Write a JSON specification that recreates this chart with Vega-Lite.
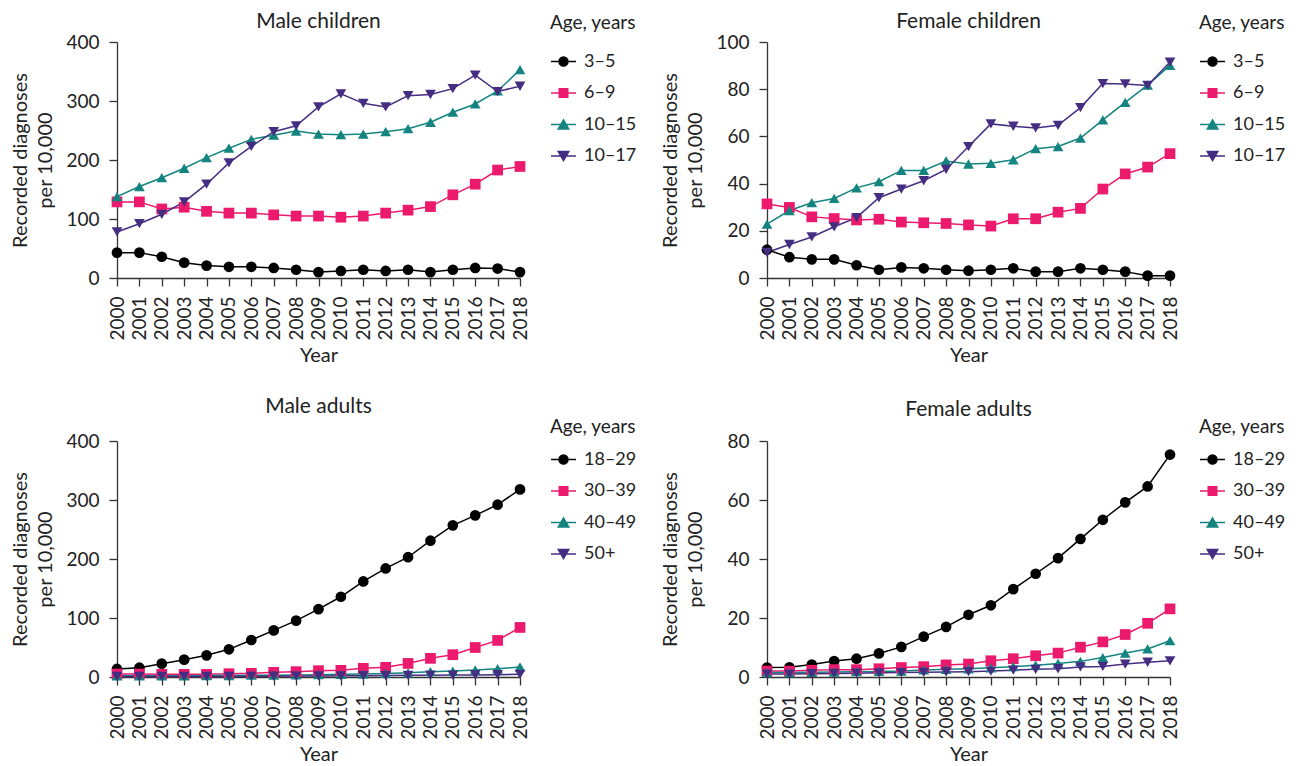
{
  "$schema": "https://vega.github.io/schema/vega-lite/v6.json",
  "padding": {"left": 10, "top": 11, "right": 5, "bottom": 2},
  "columns": 2,
  "bounds": "flush",
  "spacing": {"row": 163, "column": 247},
  "data": {"values": [
    {"panel":"MC","group":"3–5","year":2000,"value":43},{"panel":"MC","group":"3–5","year":2001,"value":43},{"panel":"MC","group":"3–5","year":2002,"value":36},{"panel":"MC","group":"3–5","year":2003,"value":26},{"panel":"MC","group":"3–5","year":2004,"value":21},{"panel":"MC","group":"3–5","year":2005,"value":19},{"panel":"MC","group":"3–5","year":2006,"value":19},{"panel":"MC","group":"3–5","year":2007,"value":17},{"panel":"MC","group":"3–5","year":2008,"value":14},{"panel":"MC","group":"3–5","year":2009,"value":10},{"panel":"MC","group":"3–5","year":2010,"value":12},{"panel":"MC","group":"3–5","year":2011,"value":14},{"panel":"MC","group":"3–5","year":2012,"value":12},{"panel":"MC","group":"3–5","year":2013,"value":14},{"panel":"MC","group":"3–5","year":2014,"value":10},{"panel":"MC","group":"3–5","year":2015,"value":14},{"panel":"MC","group":"3–5","year":2016,"value":17},{"panel":"MC","group":"3–5","year":2017,"value":16},{"panel":"MC","group":"3–5","year":2018,"value":10},
    {"panel":"MC","group":"6–9","year":2000,"value":129},{"panel":"MC","group":"6–9","year":2001,"value":129},{"panel":"MC","group":"6–9","year":2002,"value":117},{"panel":"MC","group":"6–9","year":2003,"value":120},{"panel":"MC","group":"6–9","year":2004,"value":113},{"panel":"MC","group":"6–9","year":2005,"value":110},{"panel":"MC","group":"6–9","year":2006,"value":110},{"panel":"MC","group":"6–9","year":2007,"value":107},{"panel":"MC","group":"6–9","year":2008,"value":105},{"panel":"MC","group":"6–9","year":2009,"value":105},{"panel":"MC","group":"6–9","year":2010,"value":103},{"panel":"MC","group":"6–9","year":2011,"value":105},{"panel":"MC","group":"6–9","year":2012,"value":110},{"panel":"MC","group":"6–9","year":2013,"value":115},{"panel":"MC","group":"6–9","year":2014,"value":121},{"panel":"MC","group":"6–9","year":2015,"value":141},{"panel":"MC","group":"6–9","year":2016,"value":159},{"panel":"MC","group":"6–9","year":2017,"value":183},{"panel":"MC","group":"6–9","year":2018,"value":189},
    {"panel":"MC","group":"10–15","year":2000,"value":138},{"panel":"MC","group":"10–15","year":2001,"value":155},{"panel":"MC","group":"10–15","year":2002,"value":170},{"panel":"MC","group":"10–15","year":2003,"value":186},{"panel":"MC","group":"10–15","year":2004,"value":204},{"panel":"MC","group":"10–15","year":2005,"value":220},{"panel":"MC","group":"10–15","year":2006,"value":235},{"panel":"MC","group":"10–15","year":2007,"value":242},{"panel":"MC","group":"10–15","year":2008,"value":249},{"panel":"MC","group":"10–15","year":2009,"value":244},{"panel":"MC","group":"10–15","year":2010,"value":243},{"panel":"MC","group":"10–15","year":2011,"value":244},{"panel":"MC","group":"10–15","year":2012,"value":248},{"panel":"MC","group":"10–15","year":2013,"value":253},{"panel":"MC","group":"10–15","year":2014,"value":264},{"panel":"MC","group":"10–15","year":2015,"value":281},{"panel":"MC","group":"10–15","year":2016,"value":295},{"panel":"MC","group":"10–15","year":2017,"value":317},{"panel":"MC","group":"10–15","year":2018,"value":353},
    {"panel":"MC","group":"10–17","year":2000,"value":78},{"panel":"MC","group":"10–17","year":2001,"value":92},{"panel":"MC","group":"10–17","year":2002,"value":108},{"panel":"MC","group":"10–17","year":2003,"value":129},{"panel":"MC","group":"10–17","year":2004,"value":159},{"panel":"MC","group":"10–17","year":2005,"value":195},{"panel":"MC","group":"10–17","year":2006,"value":223},{"panel":"MC","group":"10–17","year":2007,"value":248},{"panel":"MC","group":"10–17","year":2008,"value":258},{"panel":"MC","group":"10–17","year":2009,"value":290},{"panel":"MC","group":"10–17","year":2010,"value":312},{"panel":"MC","group":"10–17","year":2011,"value":296},{"panel":"MC","group":"10–17","year":2012,"value":290},{"panel":"MC","group":"10–17","year":2013,"value":309},{"panel":"MC","group":"10–17","year":2014,"value":311},{"panel":"MC","group":"10–17","year":2015,"value":321},{"panel":"MC","group":"10–17","year":2016,"value":344},{"panel":"MC","group":"10–17","year":2017,"value":316},{"panel":"MC","group":"10–17","year":2018,"value":325},
    {"panel":"FC","group":"3–5","year":2000,"value":12.0},{"panel":"FC","group":"3–5","year":2001,"value":8.8},{"panel":"FC","group":"3–5","year":2002,"value":7.9},{"panel":"FC","group":"3–5","year":2003,"value":7.9},{"panel":"FC","group":"3–5","year":2004,"value":5.4},{"panel":"FC","group":"3–5","year":2005,"value":3.5},{"panel":"FC","group":"3–5","year":2006,"value":4.5},{"panel":"FC","group":"3–5","year":2007,"value":4.1},{"panel":"FC","group":"3–5","year":2008,"value":3.5},{"panel":"FC","group":"3–5","year":2009,"value":3.1},{"panel":"FC","group":"3–5","year":2010,"value":3.5},{"panel":"FC","group":"3–5","year":2011,"value":4.1},{"panel":"FC","group":"3–5","year":2012,"value":2.7},{"panel":"FC","group":"3–5","year":2013,"value":2.7},{"panel":"FC","group":"3–5","year":2014,"value":4.1},{"panel":"FC","group":"3–5","year":2015,"value":3.5},{"panel":"FC","group":"3–5","year":2016,"value":2.7},{"panel":"FC","group":"3–5","year":2017,"value":1.0},{"panel":"FC","group":"3–5","year":2018,"value":1.0},
    {"panel":"FC","group":"6–9","year":2000,"value":31.4},{"panel":"FC","group":"6–9","year":2001,"value":29.9},{"panel":"FC","group":"6–9","year":2002,"value":25.9},{"panel":"FC","group":"6–9","year":2003,"value":25.2},{"panel":"FC","group":"6–9","year":2004,"value":24.6},{"panel":"FC","group":"6–9","year":2005,"value":24.9},{"panel":"FC","group":"6–9","year":2006,"value":23.7},{"panel":"FC","group":"6–9","year":2007,"value":23.4},{"panel":"FC","group":"6–9","year":2008,"value":23.1},{"panel":"FC","group":"6–9","year":2009,"value":22.5},{"panel":"FC","group":"6–9","year":2010,"value":22.0},{"panel":"FC","group":"6–9","year":2011,"value":25.1},{"panel":"FC","group":"6–9","year":2012,"value":25.1},{"panel":"FC","group":"6–9","year":2013,"value":27.9},{"panel":"FC","group":"6–9","year":2014,"value":29.5},{"panel":"FC","group":"6–9","year":2015,"value":37.7},{"panel":"FC","group":"6–9","year":2016,"value":44.1},{"panel":"FC","group":"6–9","year":2017,"value":47.0},{"panel":"FC","group":"6–9","year":2018,"value":52.7},
    {"panel":"FC","group":"10–15","year":2000,"value":22.8},{"panel":"FC","group":"10–15","year":2001,"value":28.6},{"panel":"FC","group":"10–15","year":2002,"value":31.9},{"panel":"FC","group":"10–15","year":2003,"value":33.7},{"panel":"FC","group":"10–15","year":2004,"value":38.2},{"panel":"FC","group":"10–15","year":2005,"value":40.8},{"panel":"FC","group":"10–15","year":2006,"value":45.6},{"panel":"FC","group":"10–15","year":2007,"value":45.6},{"panel":"FC","group":"10–15","year":2008,"value":49.6},{"panel":"FC","group":"10–15","year":2009,"value":48.3},{"panel":"FC","group":"10–15","year":2010,"value":48.6},{"panel":"FC","group":"10–15","year":2011,"value":50.1},{"panel":"FC","group":"10–15","year":2012,"value":54.8},{"panel":"FC","group":"10–15","year":2013,"value":55.7},{"panel":"FC","group":"10–15","year":2014,"value":59.3},{"panel":"FC","group":"10–15","year":2015,"value":67.0},{"panel":"FC","group":"10–15","year":2016,"value":74.4},{"panel":"FC","group":"10–15","year":2017,"value":81.7},{"panel":"FC","group":"10–15","year":2018,"value":90.1},
    {"panel":"FC","group":"10–17","year":2000,"value":10.8},{"panel":"FC","group":"10–17","year":2001,"value":14.2},{"panel":"FC","group":"10–17","year":2002,"value":17.4},{"panel":"FC","group":"10–17","year":2003,"value":21.7},{"panel":"FC","group":"10–17","year":2004,"value":25.6},{"panel":"FC","group":"10–17","year":2005,"value":34.0},{"panel":"FC","group":"10–17","year":2006,"value":37.7},{"panel":"FC","group":"10–17","year":2007,"value":41.2},{"panel":"FC","group":"10–17","year":2008,"value":46.0},{"panel":"FC","group":"10–17","year":2009,"value":55.7},{"panel":"FC","group":"10–17","year":2010,"value":65.3},{"panel":"FC","group":"10–17","year":2011,"value":64.3},{"panel":"FC","group":"10–17","year":2012,"value":63.6},{"panel":"FC","group":"10–17","year":2013,"value":64.7},{"panel":"FC","group":"10–17","year":2014,"value":72.2},{"panel":"FC","group":"10–17","year":2015,"value":82.4},{"panel":"FC","group":"10–17","year":2016,"value":82.2},{"panel":"FC","group":"10–17","year":2017,"value":81.6},{"panel":"FC","group":"10–17","year":2018,"value":91.5},
    {"panel":"MA","group":"18–29","year":2000,"value":13.6},{"panel":"MA","group":"18–29","year":2001,"value":15.8},{"panel":"MA","group":"18–29","year":2002,"value":22.6},{"panel":"MA","group":"18–29","year":2003,"value":29.4},{"panel":"MA","group":"18–29","year":2004,"value":36.7},{"panel":"MA","group":"18–29","year":2005,"value":46.9},{"panel":"MA","group":"18–29","year":2006,"value":62.7},{"panel":"MA","group":"18–29","year":2007,"value":79},{"panel":"MA","group":"18–29","year":2008,"value":95.5},{"panel":"MA","group":"18–29","year":2009,"value":115},{"panel":"MA","group":"18–29","year":2010,"value":136},{"panel":"MA","group":"18–29","year":2011,"value":162},{"panel":"MA","group":"18–29","year":2012,"value":184},{"panel":"MA","group":"18–29","year":2013,"value":203},{"panel":"MA","group":"18–29","year":2014,"value":231},{"panel":"MA","group":"18–29","year":2015,"value":257},{"panel":"MA","group":"18–29","year":2016,"value":274},{"panel":"MA","group":"18–29","year":2017,"value":292},{"panel":"MA","group":"18–29","year":2018,"value":318},
    {"panel":"MA","group":"30–39","year":2000,"value":5},{"panel":"MA","group":"30–39","year":2001,"value":5},{"panel":"MA","group":"30–39","year":2002,"value":4.5},{"panel":"MA","group":"30–39","year":2003,"value":4.5},{"panel":"MA","group":"30–39","year":2004,"value":4.5},{"panel":"MA","group":"30–39","year":2005,"value":5.6},{"panel":"MA","group":"30–39","year":2006,"value":6.2},{"panel":"MA","group":"30–39","year":2007,"value":7.9},{"panel":"MA","group":"30–39","year":2008,"value":9},{"panel":"MA","group":"30–39","year":2009,"value":10.7},{"panel":"MA","group":"30–39","year":2010,"value":11.3},{"panel":"MA","group":"30–39","year":2011,"value":14.7},{"panel":"MA","group":"30–39","year":2012,"value":16.4},{"panel":"MA","group":"30–39","year":2013,"value":23},{"panel":"MA","group":"30–39","year":2014,"value":31.6},{"panel":"MA","group":"30–39","year":2015,"value":37.8},{"panel":"MA","group":"30–39","year":2016,"value":50},{"panel":"MA","group":"30–39","year":2017,"value":62},{"panel":"MA","group":"30–39","year":2018,"value":84},
    {"panel":"MA","group":"40–49","year":2000,"value":2},{"panel":"MA","group":"40–49","year":2001,"value":2},{"panel":"MA","group":"40–49","year":2002,"value":2},{"panel":"MA","group":"40–49","year":2003,"value":2},{"panel":"MA","group":"40–49","year":2004,"value":2.5},{"panel":"MA","group":"40–49","year":2005,"value":2.5},{"panel":"MA","group":"40–49","year":2006,"value":3},{"panel":"MA","group":"40–49","year":2007,"value":3},{"panel":"MA","group":"40–49","year":2008,"value":3.5},{"panel":"MA","group":"40–49","year":2009,"value":4},{"panel":"MA","group":"40–49","year":2010,"value":4.5},{"panel":"MA","group":"40–49","year":2011,"value":5},{"panel":"MA","group":"40–49","year":2012,"value":6},{"panel":"MA","group":"40–49","year":2013,"value":7},{"panel":"MA","group":"40–49","year":2014,"value":9},{"panel":"MA","group":"40–49","year":2015,"value":10},{"panel":"MA","group":"40–49","year":2016,"value":12},{"panel":"MA","group":"40–49","year":2017,"value":14},{"panel":"MA","group":"40–49","year":2018,"value":17},
    {"panel":"MA","group":"50+","year":2000,"value":1},{"panel":"MA","group":"50+","year":2001,"value":1},{"panel":"MA","group":"50+","year":2002,"value":1},{"panel":"MA","group":"50+","year":2003,"value":1},{"panel":"MA","group":"50+","year":2004,"value":1},{"panel":"MA","group":"50+","year":2005,"value":1},{"panel":"MA","group":"50+","year":2006,"value":1.2},{"panel":"MA","group":"50+","year":2007,"value":1.4},{"panel":"MA","group":"50+","year":2008,"value":1.6},{"panel":"MA","group":"50+","year":2009,"value":1.8},{"panel":"MA","group":"50+","year":2010,"value":2},{"panel":"MA","group":"50+","year":2011,"value":2.2},{"panel":"MA","group":"50+","year":2012,"value":2.5},{"panel":"MA","group":"50+","year":2013,"value":2.8},{"panel":"MA","group":"50+","year":2014,"value":3},{"panel":"MA","group":"50+","year":2015,"value":3.3},{"panel":"MA","group":"50+","year":2016,"value":3.6},{"panel":"MA","group":"50+","year":2017,"value":4},{"panel":"MA","group":"50+","year":2018,"value":4.5},
    {"panel":"FA","group":"18–29","year":2000,"value":3.2},{"panel":"FA","group":"18–29","year":2001,"value":3.3},{"panel":"FA","group":"18–29","year":2002,"value":4.2},{"panel":"FA","group":"18–29","year":2003,"value":5.4},{"panel":"FA","group":"18–29","year":2004,"value":6.2},{"panel":"FA","group":"18–29","year":2005,"value":8.0},{"panel":"FA","group":"18–29","year":2006,"value":10.2},{"panel":"FA","group":"18–29","year":2007,"value":13.7},{"panel":"FA","group":"18–29","year":2008,"value":17.0},{"panel":"FA","group":"18–29","year":2009,"value":21.1},{"panel":"FA","group":"18–29","year":2010,"value":24.3},{"panel":"FA","group":"18–29","year":2011,"value":29.8},{"panel":"FA","group":"18–29","year":2012,"value":35.0},{"panel":"FA","group":"18–29","year":2013,"value":40.3},{"panel":"FA","group":"18–29","year":2014,"value":46.8},{"panel":"FA","group":"18–29","year":2015,"value":53.3},{"panel":"FA","group":"18–29","year":2016,"value":59.2},{"panel":"FA","group":"18–29","year":2017,"value":64.6},{"panel":"FA","group":"18–29","year":2018,"value":75.4},
    {"panel":"FA","group":"30–39","year":2000,"value":2.0},{"panel":"FA","group":"30–39","year":2001,"value":2.0},{"panel":"FA","group":"30–39","year":2002,"value":2.3},{"panel":"FA","group":"30–39","year":2003,"value":2.5},{"panel":"FA","group":"30–39","year":2004,"value":2.5},{"panel":"FA","group":"30–39","year":2005,"value":2.8},{"panel":"FA","group":"30–39","year":2006,"value":3.2},{"panel":"FA","group":"30–39","year":2007,"value":3.5},{"panel":"FA","group":"30–39","year":2008,"value":4.1},{"panel":"FA","group":"30–39","year":2009,"value":4.4},{"panel":"FA","group":"30–39","year":2010,"value":5.5},{"panel":"FA","group":"30–39","year":2011,"value":6.2},{"panel":"FA","group":"30–39","year":2012,"value":7.2},{"panel":"FA","group":"30–39","year":2013,"value":8.1},{"panel":"FA","group":"30–39","year":2014,"value":10.1},{"panel":"FA","group":"30–39","year":2015,"value":11.9},{"panel":"FA","group":"30–39","year":2016,"value":14.4},{"panel":"FA","group":"30–39","year":2017,"value":18.2},{"panel":"FA","group":"30–39","year":2018,"value":23.1},
    {"panel":"FA","group":"40–49","year":2000,"value":1.5},{"panel":"FA","group":"40–49","year":2001,"value":1.5},{"panel":"FA","group":"40–49","year":2002,"value":1.6},{"panel":"FA","group":"40–49","year":2003,"value":1.7},{"panel":"FA","group":"40–49","year":2004,"value":1.8},{"panel":"FA","group":"40–49","year":2005,"value":1.9},{"panel":"FA","group":"40–49","year":2006,"value":2.0},{"panel":"FA","group":"40–49","year":2007,"value":2.4},{"panel":"FA","group":"40–49","year":2008,"value":2.6},{"panel":"FA","group":"40–49","year":2009,"value":2.8},{"panel":"FA","group":"40–49","year":2010,"value":3.1},{"panel":"FA","group":"40–49","year":2011,"value":3.5},{"panel":"FA","group":"40–49","year":2012,"value":4.0},{"panel":"FA","group":"40–49","year":2013,"value":4.6},{"panel":"FA","group":"40–49","year":2014,"value":5.3},{"panel":"FA","group":"40–49","year":2015,"value":6.6},{"panel":"FA","group":"40–49","year":2016,"value":8.1},{"panel":"FA","group":"40–49","year":2017,"value":9.5},{"panel":"FA","group":"40–49","year":2018,"value":12.3},
    {"panel":"FA","group":"50+","year":2000,"value":1.0},{"panel":"FA","group":"50+","year":2001,"value":1.0},{"panel":"FA","group":"50+","year":2002,"value":1.1},{"panel":"FA","group":"50+","year":2003,"value":1.2},{"panel":"FA","group":"50+","year":2004,"value":1.3},{"panel":"FA","group":"50+","year":2005,"value":1.4},{"panel":"FA","group":"50+","year":2006,"value":1.5},{"panel":"FA","group":"50+","year":2007,"value":1.6},{"panel":"FA","group":"50+","year":2008,"value":1.7},{"panel":"FA","group":"50+","year":2009,"value":1.8},{"panel":"FA","group":"50+","year":2010,"value":2.0},{"panel":"FA","group":"50+","year":2011,"value":2.3},{"panel":"FA","group":"50+","year":2012,"value":2.6},{"panel":"FA","group":"50+","year":2013,"value":2.8},{"panel":"FA","group":"50+","year":2014,"value":3.4},{"panel":"FA","group":"50+","year":2015,"value":3.6},{"panel":"FA","group":"50+","year":2016,"value":4.4},{"panel":"FA","group":"50+","year":2017,"value":5.0},{"panel":"FA","group":"50+","year":2018,"value":5.5}
  ]},
  "concat": [
    {
      "title": {"text": "Male children", "offset": -18},
      "width": 403, "height": 236,
      "transform": [{"filter": "datum.panel === 'MC'"}],
      "encoding": {
        "x": {"field": "year", "type": "quantitative", "scale": {"domain": [2000, 2018], "nice": false, "zero": false}, "axis": {"values": [2000,2001,2002,2003,2004,2005,2006,2007,2008,2009,2010,2011,2012,2013,2014,2015,2016,2017,2018], "format": "d", "labelAngle": 270, "title": "Year", "labelOverlap": false, "labelFlush": false}},
        "y": {"field": "value", "type": "quantitative", "scale": {"domain": [0, 400], "nice": false}, "axis": {"values": [0,100,200,300,400], "title": ["Recorded diagnoses", "per 10,000"]}}
      },
      "layer": [
        {"mark": {"type": "line", "strokeWidth": 1.5}, "encoding": {"color": {"field": "group", "type": "nominal", "scale": {"domain": ["3–5","6–9","10–15","10–17"], "range": ["#000000","#EC1A6D","#13847F","#452D82"]}, "legend": null}}},
        {"mark": {"type": "point", "filled": true, "opacity": 1, "size": 115, "strokeWidth": 0}, "encoding": {"color": {"field": "group", "type": "nominal", "scale": {"domain": ["3–5","6–9","10–15","10–17"], "range": ["#000000","#EC1A6D","#13847F","#452D82"]}, "legend": null}, "shape": {"field": "group", "type": "nominal", "scale": {"domain": ["3–5","6–9","10–15","10–17"], "range": ["circle","square","triangle-up","triangle-down"]}, "legend": null}}},
        {"mark": {"type": "point", "opacity": 0},
         "encoding": {
          "fill": {"field": "group", "type": "nominal", "scale": {"domain": ["3–5","6–9","10–15","10–17"], "range": ["#000000","#EC1A6D","#13847F","#452D82"]}, "legend": {"title": "Age, years", "orient": "none", "legendX": 433, "legendY": -28, "titlePadding": 15}},
          "stroke": {"field": "group", "type": "nominal", "scale": {"domain": ["3–5","6–9","10–15","10–17"], "range": ["#000000","#EC1A6D","#13847F","#452D82"]}, "legend": {"title": "Age, years", "orient": "none", "legendX": 433, "legendY": -28, "titlePadding": 15}},
          "shape": {"field": "group", "type": "nominal", "scale": {"domain": ["3–5","6–9","10–15","10–17"], "range": ["M-1,0H1M-0.36,0A0.36,0.36,0,1,1,0.36,0A0.36,0.36,0,1,1,-0.36,0Z","M-1,0H1M-0.34,-0.34H0.34V0.34H-0.34Z","M-1,0H1M0,-0.36L0.42,0.36H-0.42Z","M-1,0H1M0,0.36L0.42,-0.36H-0.42Z"]}, "legend": {"title": "Age, years", "orient": "none", "legendX": 433, "legendY": -28, "titlePadding": 15}}
         }}
      ],
      "resolve": {"scale": {"shape": "independent", "fill": "independent", "stroke": "independent"}}
    },
    {
      "title": {"text": "Female children", "offset": -18},
      "width": 403, "height": 236,
      "transform": [{"filter": "datum.panel === 'FC'"}],
      "encoding": {
        "x": {"field": "year", "type": "quantitative", "scale": {"domain": [2000, 2018], "nice": false, "zero": false}, "axis": {"values": [2000,2001,2002,2003,2004,2005,2006,2007,2008,2009,2010,2011,2012,2013,2014,2015,2016,2017,2018], "format": "d", "labelAngle": 270, "title": "Year", "labelOverlap": false, "labelFlush": false}},
        "y": {"field": "value", "type": "quantitative", "scale": {"domain": [0, 100], "nice": false}, "axis": {"values": [0,20,40,60,80,100], "title": ["Recorded diagnoses", "per 10,000"]}}
      },
      "layer": [
        {"mark": {"type": "line", "strokeWidth": 1.5}, "encoding": {"color": {"field": "group", "type": "nominal", "scale": {"domain": ["3–5","6–9","10–15","10–17"], "range": ["#000000","#EC1A6D","#13847F","#452D82"]}, "legend": null}}},
        {"mark": {"type": "point", "filled": true, "opacity": 1, "size": 115, "strokeWidth": 0}, "encoding": {"color": {"field": "group", "type": "nominal", "scale": {"domain": ["3–5","6–9","10–15","10–17"], "range": ["#000000","#EC1A6D","#13847F","#452D82"]}, "legend": null}, "shape": {"field": "group", "type": "nominal", "scale": {"domain": ["3–5","6–9","10–15","10–17"], "range": ["circle","square","triangle-up","triangle-down"]}, "legend": null}}},
        {"mark": {"type": "point", "opacity": 0},
         "encoding": {
          "fill": {"field": "group", "type": "nominal", "scale": {"domain": ["3–5","6–9","10–15","10–17"], "range": ["#000000","#EC1A6D","#13847F","#452D82"]}, "legend": {"title": "Age, years", "orient": "none", "legendX": 432, "legendY": -28, "titlePadding": 15}},
          "stroke": {"field": "group", "type": "nominal", "scale": {"domain": ["3–5","6–9","10–15","10–17"], "range": ["#000000","#EC1A6D","#13847F","#452D82"]}, "legend": {"title": "Age, years", "orient": "none", "legendX": 432, "legendY": -28, "titlePadding": 15}},
          "shape": {"field": "group", "type": "nominal", "scale": {"domain": ["3–5","6–9","10–15","10–17"], "range": ["M-1,0H1M-0.36,0A0.36,0.36,0,1,1,0.36,0A0.36,0.36,0,1,1,-0.36,0Z","M-1,0H1M-0.34,-0.34H0.34V0.34H-0.34Z","M-1,0H1M0,-0.36L0.42,0.36H-0.42Z","M-1,0H1M0,0.36L0.42,-0.36H-0.42Z"]}, "legend": {"title": "Age, years", "orient": "none", "legendX": 432, "legendY": -28, "titlePadding": 15}}
         }}
      ],
      "resolve": {"scale": {"shape": "independent", "fill": "independent", "stroke": "independent"}}
    },
    {
      "title": {"text": "Male adults", "offset": 1},
      "width": 403, "height": 236,
      "transform": [{"filter": "datum.panel === 'MA'"}],
      "encoding": {
        "x": {"field": "year", "type": "quantitative", "scale": {"domain": [2000, 2018], "nice": false, "zero": false}, "axis": {"values": [2000,2001,2002,2003,2004,2005,2006,2007,2008,2009,2010,2011,2012,2013,2014,2015,2016,2017,2018], "format": "d", "labelAngle": 270, "title": "Year", "labelOverlap": false, "labelFlush": false}},
        "y": {"field": "value", "type": "quantitative", "scale": {"domain": [0, 400], "nice": false}, "axis": {"values": [0,100,200,300,400], "title": ["Recorded diagnoses", "per 10,000"]}}
      },
      "layer": [
        {"mark": {"type": "line", "strokeWidth": 1.5}, "encoding": {"color": {"field": "group", "type": "nominal", "scale": {"domain": ["18–29","30–39","40–49","50+"], "range": ["#000000","#EC1A6D","#13847F","#452D82"]}, "legend": null}}},
        {"mark": {"type": "point", "filled": true, "opacity": 1, "size": 115, "strokeWidth": 0}, "encoding": {"color": {"field": "group", "type": "nominal", "scale": {"domain": ["18–29","30–39","40–49","50+"], "range": ["#000000","#EC1A6D","#13847F","#452D82"]}, "legend": null}, "shape": {"field": "group", "type": "nominal", "scale": {"domain": ["18–29","30–39","40–49","50+"], "range": ["circle","square","triangle-up","triangle-down"]}, "legend": null}}},
        {"mark": {"type": "point", "opacity": 0},
         "encoding": {
          "fill": {"field": "group", "type": "nominal", "scale": {"domain": ["18–29","30–39","40–49","50+"], "range": ["#000000","#EC1A6D","#13847F","#452D82"]}, "legend": {"title": "Age, years", "orient": "none", "legendX": 433, "legendY": -23, "titlePadding": 9}},
          "stroke": {"field": "group", "type": "nominal", "scale": {"domain": ["18–29","30–39","40–49","50+"], "range": ["#000000","#EC1A6D","#13847F","#452D82"]}, "legend": {"title": "Age, years", "orient": "none", "legendX": 433, "legendY": -23, "titlePadding": 9}},
          "shape": {"field": "group", "type": "nominal", "scale": {"domain": ["18–29","30–39","40–49","50+"], "range": ["M-1,0H1M-0.36,0A0.36,0.36,0,1,1,0.36,0A0.36,0.36,0,1,1,-0.36,0Z","M-1,0H1M-0.34,-0.34H0.34V0.34H-0.34Z","M-1,0H1M0,-0.36L0.42,0.36H-0.42Z","M-1,0H1M0,0.36L0.42,-0.36H-0.42Z"]}, "legend": {"title": "Age, years", "orient": "none", "legendX": 433, "legendY": -23, "titlePadding": 9}}
         }}
      ],
      "resolve": {"scale": {"shape": "independent", "fill": "independent", "stroke": "independent"}}
    },
    {
      "title": {"text": "Female adults", "offset": -2},
      "width": 403, "height": 236,
      "transform": [{"filter": "datum.panel === 'FA'"}],
      "encoding": {
        "x": {"field": "year", "type": "quantitative", "scale": {"domain": [2000, 2018], "nice": false, "zero": false}, "axis": {"values": [2000,2001,2002,2003,2004,2005,2006,2007,2008,2009,2010,2011,2012,2013,2014,2015,2016,2017,2018], "format": "d", "labelAngle": 270, "title": "Year", "labelOverlap": false, "labelFlush": false}},
        "y": {"field": "value", "type": "quantitative", "scale": {"domain": [0, 80], "nice": false}, "axis": {"values": [0,20,40,60,80], "title": ["Recorded diagnoses", "per 10,000"], "titlePadding": 21}}
      },
      "layer": [
        {"mark": {"type": "line", "strokeWidth": 1.5}, "encoding": {"color": {"field": "group", "type": "nominal", "scale": {"domain": ["18–29","30–39","40–49","50+"], "range": ["#000000","#EC1A6D","#13847F","#452D82"]}, "legend": null}}},
        {"mark": {"type": "point", "filled": true, "opacity": 1, "size": 115, "strokeWidth": 0}, "encoding": {"color": {"field": "group", "type": "nominal", "scale": {"domain": ["18–29","30–39","40–49","50+"], "range": ["#000000","#EC1A6D","#13847F","#452D82"]}, "legend": null}, "shape": {"field": "group", "type": "nominal", "scale": {"domain": ["18–29","30–39","40–49","50+"], "range": ["circle","square","triangle-up","triangle-down"]}, "legend": null}}},
        {"mark": {"type": "point", "opacity": 0},
         "encoding": {
          "fill": {"field": "group", "type": "nominal", "scale": {"domain": ["18–29","30–39","40–49","50+"], "range": ["#000000","#EC1A6D","#13847F","#452D82"]}, "legend": {"title": "Age, years", "orient": "none", "legendX": 432, "legendY": -23, "titlePadding": 9}},
          "stroke": {"field": "group", "type": "nominal", "scale": {"domain": ["18–29","30–39","40–49","50+"], "range": ["#000000","#EC1A6D","#13847F","#452D82"]}, "legend": {"title": "Age, years", "orient": "none", "legendX": 432, "legendY": -23, "titlePadding": 9}},
          "shape": {"field": "group", "type": "nominal", "scale": {"domain": ["18–29","30–39","40–49","50+"], "range": ["M-1,0H1M-0.36,0A0.36,0.36,0,1,1,0.36,0A0.36,0.36,0,1,1,-0.36,0Z","M-1,0H1M-0.34,-0.34H0.34V0.34H-0.34Z","M-1,0H1M0,-0.36L0.42,0.36H-0.42Z","M-1,0H1M0,0.36L0.42,-0.36H-0.42Z"]}, "legend": {"title": "Age, years", "orient": "none", "legendX": 432, "legendY": -23, "titlePadding": 9}}
         }}
      ],
      "resolve": {"scale": {"shape": "independent", "fill": "independent", "stroke": "independent"}}
    }
  ],
  "resolve": {
    "scale": {"x": "independent", "y": "independent", "color": "independent", "shape": "independent", "fill": "independent", "stroke": "independent"}
  },
  "config": {
    "font": "Lato",
    "view": {"stroke": null},
    "axis": {"grid": false, "domainColor": "#333333", "tickColor": "#333333", "labelColor": "#222222", "titleColor": "#222222", "labelFontSize": 19, "titleFontSize": 20, "titleFontWeight": "normal", "tickSize": 8, "labelPadding": 10, "domainWidth": 1.3, "tickWidth": 1.3, "titlePadding": 5},
    "axisY": {"titleLineHeight": 25, "titlePadding": 10},
    "legend": {"symbolSize": 625, "symbolStrokeWidth": 1.5, "symbolOpacity": 1, "labelFontSize": 18, "titleFontSize": 19, "titleFontWeight": "normal", "labelColor": "#222222", "titleColor": "#222222", "labelOffset": 7, "titlePadding": 10, "rowPadding": 8.5, "padding": 0},
    "title": {"fontSize": 21, "fontWeight": "normal", "color": "#222222", "frame": "group", "anchor": "middle", "offset": 10}
  }
}
